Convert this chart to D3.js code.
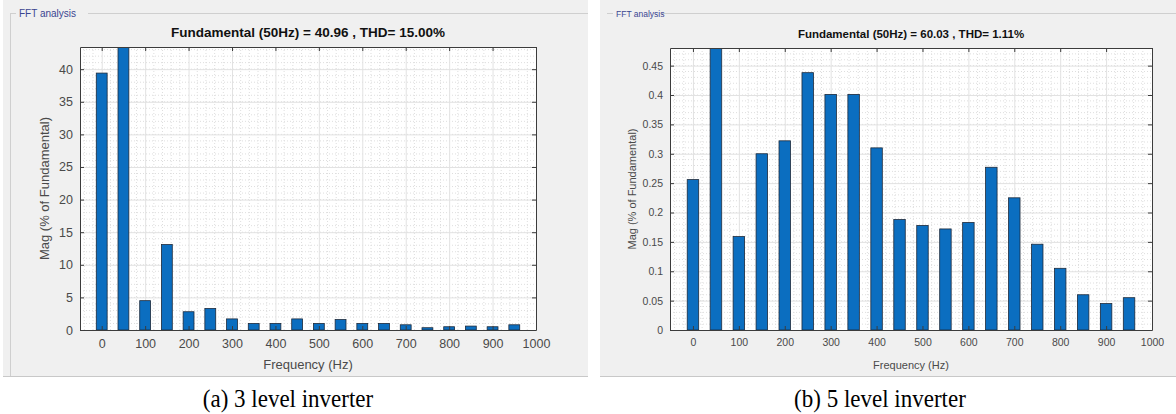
<!DOCTYPE html>
<html>
	<head>
		<title>FFT analysis</title>
		<style>
			body, html { margin: 0; padding: 0; background: #fff; }
			svg { display: block; }
		</style>
	</head>
	<body>

		<svg id="svg" width="1176" height="414"></svg>

		<script src="https://d3js.org/d3.v7.min.js"></script>
		<script>
			// Harmonic frequencies (Hz), one bar each
			const freqs = [0, 50, 100, 150, 200, 250, 300, 350, 400, 450, 500, 550, 600, 650, 700, 750, 800, 850, 900, 950]

			// Magnitudes (% of fundamental), 50 Hz bar is the fundamental and runs off the top
			const magA = [39.4, 100, 4.5, 13.1, 2.8, 3.3, 1.7, 1.0, 1.0, 1.7, 1.0, 1.6, 1.0, 1.0, 0.8, 0.35, 0.5, 0.6, 0.5, 0.8]
			const magB = [0.256, 100, 0.159, 0.300, 0.322, 0.438, 0.401, 0.401, 0.310, 0.188, 0.178, 0.172, 0.183, 0.277, 0.225, 0.146, 0.105, 0.060, 0.045, 0.055]

			// Tick labels
			const xTicks = [0, 100, 200, 300, 400, 500, 600, 700, 800, 900, 1000]
			const yTicksA = [0, 5, 10, 15, 20, 25, 30, 35, 40]
			const yTicksB = [0, 0.05, 0.1, 0.15, 0.2, 0.25, 0.3, 0.35, 0.4, 0.45]

			const titles = ['Fundamental (50Hz) = 40.96 , THD= 15.00%', 'Fundamental (50Hz) = 60.03 , THD= 1.11%']
			const captions = ['(a) 3 level inverter', '(b) 5 level inverter']

			const svg = d3.select('#svg')

			const panels = [
				{ id: 'a', data: magA, yTicks: yTicksA, yMax: 43.4, yMinor: 1, title: titles[0], caption: captions[0],
				  box: [3, 588], left: 80, right: 536, top: 47, bottom: 330,
				  fTitle: 13.5, fTick: 12.5, fLabel: 13, fGroup: 10, groupEnd: 88, captionX: 288 },
				{ id: 'b', data: magB, yTicks: yTicksB, yMax: 0.48, yMinor: 0.01, title: titles[1], caption: captions[1],
				  box: [600, 1176], left: 670, right: 1152, top: 48, bottom: 330,
				  fTitle: 11.5, fTick: 10.5, fLabel: 11, fGroup: 8.5, groupEnd: 662, captionX: 880 }
			]

			panels.forEach(drawPanel)

			function drawPanel(p) {
				const g = svg.append('g')

				// Window background and group box
				g.append('rect')
					.attr('x', p.box[0]).attr('y', 0)
					.attr('width', p.box[1] - p.box[0]).attr('height', 376)
					.attr('fill', '#f0f0f0')
				g.append('line')
					.attr('x1', p.box[0]).attr('x2', p.box[1])
					.attr('y1', 376.5).attr('y2', 376.5)
					.attr('stroke', '#c8c8c8')
				g.append('line')
					.attr('x1', p.box[0] + 7).attr('x2', p.box[0] + 13)
					.attr('y1', 13.5).attr('y2', 13.5)
					.attr('stroke', '#cfcfcf')
				g.append('line')
					.attr('x1', p.groupEnd).attr('x2', p.box[1])
					.attr('y1', 13.5).attr('y2', 13.5)
					.attr('stroke', '#cfcfcf')
				if (p.id === 'a') {
					g.append('line')
						.attr('x1', 10.5).attr('x2', 10.5)
						.attr('y1', 13.5).attr('y2', 376)
						.attr('stroke', '#cfcfcf')
				}
				g.append('text')
					.attr('x', p.box[0] + 16).attr('y', 17)
					.attr('font-family', 'Liberation Sans, Arial, sans-serif')
					.attr('font-size', p.fGroup)
					.attr('fill', '#3a4590')
					.text('FFT analysis')

				// Scales
				const x = d3.scaleLinear().domain([-50, 1000]).range([p.left, p.right])
				const y = d3.scaleLinear().domain([0, p.yMax]).range([p.bottom, p.top])

				// Plot area
				g.append('rect')
					.attr('x', p.left).attr('y', p.top)
					.attr('width', p.right - p.left).attr('height', p.bottom - p.top)
					.attr('fill', '#fff')

				// Minor grid (dotted)
				const xMinor = d3.range(-40, 1000, 20).filter(v => v % 100 !== 0)
				const yMinor = d3.range(p.yMinor, p.yMax, p.yMinor)
				g.append('g').selectAll('line').data(xMinor).join('line')
					.attr('x1', d => x(d)).attr('x2', d => x(d))
					.attr('y1', p.top).attr('y2', p.bottom)
					.attr('stroke', '#dedede').attr('stroke-dasharray', '1,2')
				g.append('g').selectAll('line').data(yMinor).join('line')
					.attr('x1', p.left).attr('x2', p.right)
					.attr('y1', d => y(d)).attr('y2', d => y(d))
					.attr('stroke', '#dedede').attr('stroke-dasharray', '1,2')

				// Major grid
				g.append('g').selectAll('line').data(xTicks).join('line')
					.attr('x1', d => x(d) + 0.5).attr('x2', d => x(d) + 0.5)
					.attr('y1', p.top).attr('y2', p.bottom)
					.attr('stroke', '#e2e2e2')
				g.append('g').selectAll('line').data(p.yTicks).join('line')
					.attr('x1', p.left).attr('x2', p.right)
					.attr('y1', d => y(d) + 0.5).attr('y2', d => y(d) + 0.5)
					.attr('stroke', '#e2e2e2')

				// Bars, clipped at the axes box
				g.append('clipPath').attr('id', 'clip-' + p.id)
					.append('rect')
					.attr('x', p.left).attr('y', p.top)
					.attr('width', p.right - p.left).attr('height', p.bottom - p.top)
				const bw = x(25) - x(0)
				g.append('g').attr('clip-path', `url(#clip-${p.id})`)
					.selectAll('rect').data(freqs).join('rect')
					.attr('x', d => x(d) - bw / 2)
					.attr('y', (d, i) => y(p.data[i]))
					.attr('width', bw)
					.attr('height', (d, i) => p.bottom - y(p.data[i]))
					.attr('fill', '#0b6ec0')
					.attr('stroke', '#1e2a3a')
					.attr('stroke-width', 0.8)

				// Axes (ticks inward, MATLAB style)
				const tickColor = '#3c3c3c'
				const xAxis = g.append('g')
					.attr('transform', `translate(0,${p.bottom})`)
					.call(d3.axisBottom(x).tickValues(xTicks).tickSize(-4).tickPadding(9).tickSizeOuter(0).tickFormat(d3.format('d')))
				const yAxis = g.append('g')
					.attr('transform', `translate(${p.left},0)`)
					.call(d3.axisLeft(y).tickValues(p.yTicks).tickSize(-4).tickPadding(7).tickSizeOuter(0).tickFormat(d3.format('~g')))
				const xTop = g.append('g')
					.attr('transform', `translate(0,${p.top})`)
					.call(d3.axisTop(x).tickValues(xTicks).tickSize(-4).tickFormat('').tickSizeOuter(0))
				const yRight = g.append('g')
					.attr('transform', `translate(${p.right},0)`)
					.call(d3.axisRight(y).tickValues(p.yTicks).tickSize(-4).tickFormat('').tickSizeOuter(0))

				;[xAxis, yAxis, xTop, yRight].forEach(a => {
					a.select('.domain').attr('stroke', tickColor)
					a.selectAll('.tick line').attr('stroke', tickColor)
					a.selectAll('text')
						.attr('fill', '#4a4a4a')
						.attr('font-family', 'Liberation Sans, Arial, sans-serif')
						.attr('font-size', p.fTick)
				})

				// Title and axis labels
				g.append('text')
					.attr('x', (p.left + p.right) / 2).attr('y', p.top - 10)
					.attr('text-anchor', 'middle')
					.attr('font-family', 'Liberation Sans, Arial, sans-serif')
					.attr('font-weight', 'bold')
					.attr('font-size', p.fTitle)
					.attr('fill', '#111')
					.text(p.title)
				g.append('text')
					.attr('x', (p.left + p.right) / 2).attr('y', 369)
					.attr('text-anchor', 'middle')
					.attr('font-family', 'Liberation Sans, Arial, sans-serif')
					.attr('font-size', p.fLabel)
					.attr('fill', '#4a4a4a')
					.text('Frequency (Hz)')
				g.append('text')
					.attr('transform', `translate(${p.id === 'a' ? 49 : 636},${(p.top + p.bottom) / 2}) rotate(-90)`)
					.attr('text-anchor', 'middle')
					.attr('font-family', 'Liberation Sans, Arial, sans-serif')
					.attr('font-size', p.fLabel)
					.attr('fill', '#4a4a4a')
					.text('Mag (% of Fundamental)')

				// Caption under the screenshot (narrow serif)
				g.append('text')
					.attr('transform', `translate(${p.captionX},407) scale(0.92,1)`)
					.attr('text-anchor', 'middle')
					.attr('font-family', 'Liberation Serif, Times New Roman, serif')
					.attr('font-size', 25)
					.attr('fill', '#000')
					.text(p.caption)
			}
		</script>
	</body>
</html>
